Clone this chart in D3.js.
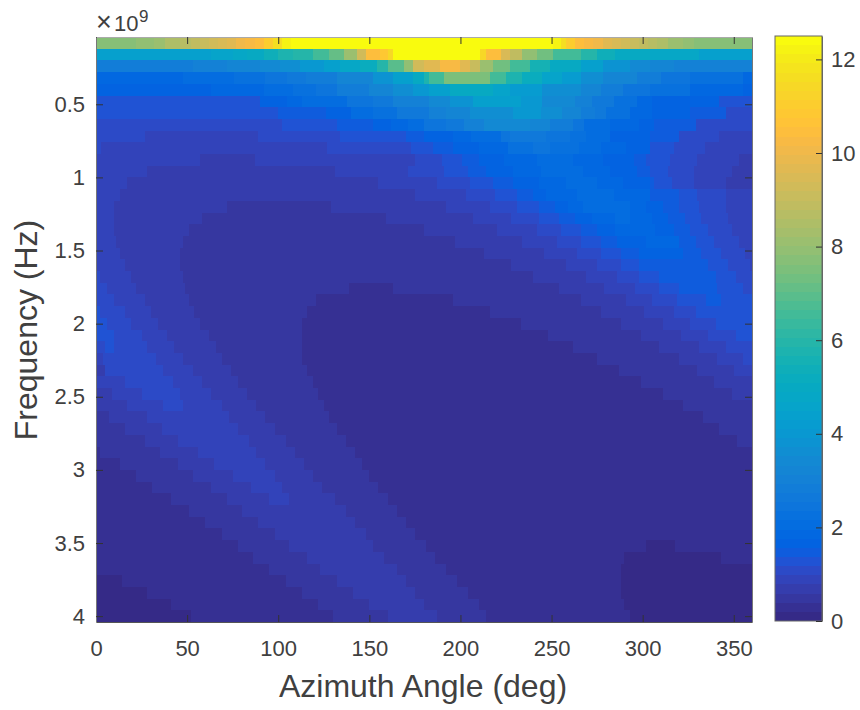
<!DOCTYPE html>
<html>
<head>
<meta charset="utf-8">
<style>
    html, body { margin: 0; padding: 0; background: #fff; }
    text { font-family: "Liberation Sans", Arial, sans-serif; fill: #404040; }
</style>
<script src="https://cdn.jsdelivr.net/npm/d3@7"></script>
</head>
<body>
<svg id="grafico" width="860" height="710"></svg>
<script>
// tick labels
const azimuthTicks = [0, 50, 100, 150, 200, 250, 300, 350];
const frequencyTicks = [0.5, 1, 1.5, 2, 2.5, 3, 3.5, 4];
const colorbarTicks = [0, 2, 4, 6, 8, 10, 12];

// frequency of each row, GHz
const frequencies = [
    0.08, 0.16, 0.24, 0.32, 0.40, 0.48, 0.56, 0.64, 0.72, 0.80,
    0.88, 0.96, 1.04, 1.12, 1.20, 1.28, 1.36, 1.44, 1.52, 1.60,
    1.68, 1.76, 1.84, 1.92, 2.00, 2.08, 2.16, 2.24, 2.32, 2.40,
    2.48, 2.56, 2.64, 2.72, 2.80, 2.88, 2.96, 3.04, 3.12, 3.20,
    3.28, 3.36, 3.44, 3.52, 3.60, 3.68, 3.76, 3.84, 3.92, 4.00
];

// one list per row: value, azimuth where it stops, value, azimuth...
const rowValues = [
    [7.8,22, 8,32, 8.2,38, 8.4,46, 8.6,52, 8.8,57, 9,62, 9.2,67, 9.5,72, 9.7,77, 10,82, 10.3,87, 10.5,92, 11,97, 11.6,102, 12.2,107, 12.5,251, 12.2,255, 11.6,258, 11,263, 10.5,268, 10.3,273, 10,278, 9.7,283, 9.5,288, 9.2,293, 9,298, 8.8,303, 8.6,308, 8.4,314, 8.2,322, 8,328, 7.8,360],
    [4.4,63, 4.5,75, 4.7,83, 5,92, 5.3,100, 5.7,108, 6,119, 6.5,128, 7.2,136, 8.2,143, 9.2,148, 10.4,156, 10.8,160, 11.5,163, 12.5,211, 11.5,214, 10.5,222, 9.5,227, 8.8,234, 8,242, 7.3,251, 6.6,266, 5.9,275, 5.4,285, 5,304, 4.7,331, 4.4,360],
    [2.9,53, 3,72, 3.2,90, 3.4,101, 3.7,112, 4,125, 4.3,134, 4.7,145, 5.2,154, 6,160, 7,169, 8,174, 9.2,180, 9.6,189, 10.3,200, 9.6,205, 9,211, 8.2,218, 7.4,227, 6.5,238, 5.6,249, 4.9,266, 4.4,278, 3.8,293, 3.4,304, 3.2,317, 3,360],
    [1.85,48, 2.05,76, 2.25,93, 2.45,105, 2.65,115, 2.9,132, 3.3,152, 3.8,163, 4.4,174, 5,180, 5.8,183, 6.5,191, 7.6,216, 6.6,225, 5.8,234, 5.1,245, 4.6,256, 4.2,266, 3.7,278, 3.2,297, 2.8,310, 2.5,326, 2.2,355, 1.85,360],
    [1.65,63, 1.85,92, 2.05,108, 2.25,121, 2.5,132, 2.8,150, 3.2,163, 3.6,174, 4,183, 4.3,194, 5,218, 4.6,227, 4.2,245, 3.7,266, 3.3,277, 2.9,289, 2.5,304, 2.2,326, 1.85,355, 1.65,360],
    [1.3,90, 1.65,105, 1.85,113, 2.05,138, 2.4,152, 2.7,163, 3.1,183, 3.4,194, 3.8,207, 4.4,233, 4,245, 3.5,263, 3,272, 2.6,284, 2.2,297, 1.9,305, 1.65,342, 1.3,360],
    [1.3,100, 1.45,126, 1.7,140, 2,152, 2.3,165, 2.7,183, 3,192, 3.3,205, 3.7,229, 4,244, 3.7,256, 3.3,266, 2.9,274, 2.6,280, 2.2,293, 1.85,305, 1.65,326, 1.45,346, 1.15,360],
    [1.1,102, 1.3,132, 1.45,152, 1.65,162, 1.9,171, 2.1,180, 2.4,192, 2.7,202, 3,213, 3.4,238, 3.2,249, 2.9,262, 2.5,268, 2.1,282, 1.85,298, 1.65,306, 1.45,329, 1.1,360],
    [1.1,27, 0.9,89, 1.1,134, 1.3,170, 1.45,180, 1.65,196, 1.85,206, 2.1,222, 2.4,227, 2.7,247, 2.5,260, 2.3,269, 2,282, 1.65,304, 1.45,320, 1.1,342, 0.9,360],
    [1.1,3, 0.9,127, 1.1,173, 1.3,185, 1.45,196, 1.65,210, 1.85,226, 2.2,240, 2.4,249, 2.2,265, 2,277, 1.85,291, 1.65,304, 1.3,317, 1.1,334, 0.9,360],
    [0.9,57, 0.7,87, 0.9,175, 1.1,190, 1.3,201, 1.45,210, 1.65,224, 1.85,242, 2.05,262, 1.9,278, 1.7,295, 1.45,302, 1.3,315, 1.1,330, 0.9,353, 0.7,360],
    [0.9,28, 0.7,131, 0.9,171, 1.1,191, 1.3,204, 1.45,214, 1.65,229, 1.85,244, 2.05,267, 1.85,282, 1.65,297, 1.45,304, 1.3,314, 1.1,328, 0.9,349, 0.7,360],
    [0.9,17, 0.7,155, 0.9,187, 1.1,205, 1.3,218, 1.45,229, 1.65,243, 1.85,258, 2.05,275, 1.85,289, 1.65,304, 1.45,306, 1.3,316, 1.1,328, 0.9,346, 0.7,360],
    [0.9,13, 0.7,175, 0.9,203, 1.1,219, 1.3,231, 1.45,240, 1.65,247, 1.85,264, 2.05,284, 1.85,304, 1.45,320, 1.3,330, 1.1,346, 0.9,360],
    [0.9,10, 0.7,72, 0.5,129, 0.7,192, 0.9,216, 1.1,231, 1.3,243, 1.45,252, 1.65,259, 1.85,267, 2.05,293, 1.85,302, 1.65,311, 1.45,320, 1.3,331, 1.1,346, 0.9,360],
    [0.9,10, 0.7,58, 0.5,159, 0.7,207, 0.9,228, 1.1,243, 1.3,254, 1.45,263, 1.65,272, 1.85,285, 2.05,293, 1.85,305, 1.65,314, 1.45,323, 1.3,332, 1.1,347, 0.9,360],
    [0.9,10, 0.7,51, 0.5,180, 0.7,220, 0.9,242, 1.1,255, 1.3,266, 1.45,275, 1.65,285, 1.85,307, 1.65,317, 1.45,326, 1.3,336, 1.1,349, 0.9,360],
    [0.9,11, 0.7,48, 0.5,197, 0.7,234, 0.9,253, 1.1,266, 1.3,277, 1.45,286, 1.65,302, 1.85,320, 1.45,329, 1.3,339, 1.1,353, 0.9,360],
    [0.9,13, 0.7,46, 0.5,213, 0.7,246, 0.9,264, 1.1,277, 1.3,288, 1.45,298, 1.65,322, 1.45,332, 1.3,343, 1.1,356, 0.9,360],
    [0.9,16, 0.7,46, 0.5,228, 0.7,258, 0.9,275, 1.1,288, 1.3,298, 1.45,336, 1.3,347, 1.1,359, 0.9,360],
    [1.1,2, 0.9,19, 0.7,48, 0.5,240, 0.7,269, 0.9,286, 1.1,298, 1.3,309, 1.45,340, 1.3,351, 1.1,360],
    [1.1,6, 0.9,22, 0.7,49, 0.5,139, 0.3,163, 0.5,254, 0.7,279, 0.9,296, 1.1,309, 1.3,320, 1.45,341, 1.3,355, 1.1,360],
    [1.1,10, 0.9,27, 0.7,51, 0.5,121, 0.3,196, 0.5,266, 0.7,291, 0.9,305, 1.1,319, 1.3,335, 1.45,343, 1.3,360],
    [1.3,2, 1.1,16, 0.9,30, 0.7,54, 0.5,116, 0.3,216, 0.5,277, 0.7,301, 0.9,317, 1.1,329, 1.3,360],
    [1.3,6, 1.1,19, 0.9,34, 0.7,57, 0.5,113, 0.3,233, 0.5,288, 0.7,311, 0.9,326, 1.1,340, 1.3,360],
    [1.3,10, 1.1,25, 0.9,39, 0.7,62, 0.5,113, 0.3,248, 0.5,299, 0.7,321, 0.9,336, 1.1,351, 1.3,360],
    [1.1,5, 1.3,10, 1.1,28, 0.9,43, 0.7,66, 0.5,113, 0.3,262, 0.5,309, 0.7,331, 0.9,346, 1.1,360],
    [0.9,4, 1.1,33, 0.9,48, 0.7,69, 0.5,113, 0.3,275, 0.5,320, 0.7,341, 0.9,355, 1.1,360],
    [0.7,5, 1.1,37, 0.9,53, 0.7,74, 0.5,116, 0.3,287, 0.5,330, 0.7,350, 0.9,360],
    [0.9,16, 1.1,42, 0.9,58, 0.7,78, 0.5,119, 0.3,299, 0.5,339, 0.7,360],
    [0.7,9, 0.9,25, 1.1,46, 0.9,63, 0.7,83, 0.5,122, 0.3,311, 0.5,349, 0.7,360],
    [0.7,17, 0.9,37, 1.1,48, 0.9,69, 0.7,88, 0.5,125, 0.3,322, 0.5,360],
    [0.5,7, 0.7,28, 0.9,73, 0.7,93, 0.5,128, 0.3,333, 0.5,360],
    [0.5,16, 0.7,36, 0.9,78, 0.7,98, 0.5,132, 0.3,342, 0.5,360],
    [0.5,27, 0.7,45, 0.9,84, 0.7,104, 0.5,137, 0.3,352, 0.5,360],
    [0.3,2, 0.5,35, 0.7,56, 0.9,88, 0.7,109, 0.5,142, 0.3,360],
    [0.3,13, 0.5,45, 0.7,65, 0.9,93, 0.7,114, 0.5,146, 0.3,360],
    [0.3,22, 0.5,53, 0.7,75, 0.9,98, 0.7,119, 0.5,150, 0.3,360],
    [0.3,31, 0.5,63, 0.7,85, 0.9,102, 0.7,124, 0.5,155, 0.3,360],
    [0.3,41, 0.5,72, 0.7,95, 0.9,106, 0.7,131, 0.5,160, 0.3,360],
    [0.3,51, 0.5,80, 0.7,137, 0.5,165, 0.3,360],
    [0.3,60, 0.5,89, 0.7,142, 0.5,170, 0.3,360],
    [0.3,69, 0.5,98, 0.7,148, 0.5,175, 0.3,360],
    [0.3,78, 0.5,106, 0.7,152, 0.5,181, 0.3,302, 0.1,318, 0.3,360],
    [0.3,86, 0.5,116, 0.7,158, 0.5,186, 0.3,290, 0.1,343, 0.3,360],
    [0.3,95, 0.5,123, 0.7,165, 0.5,192, 0.3,288, 0.1,360],
    [0.1,14, 0.3,104, 0.5,132, 0.7,170, 0.5,198, 0.3,288, 0.1,360],
    [0.1,28, 0.3,113, 0.5,141, 0.7,175, 0.5,204, 0.3,288, 0.1,360],
    [0.1,41, 0.3,122, 0.5,150, 0.7,180, 0.5,210, 0.3,290, 0.1,360],
    [0.1,52, 0.3,130, 0.5,160, 0.7,187, 0.5,214, 0.3,293, 0.1,360]
];

const parula = [
    "#352a87", "#363093", "#3637a0", "#353dad", "#3243ba", "#2c4ac7", "#2053d4", "#0f5cdd",
    "#0363e1", "#0268e1", "#046de0", "#0871de", "#0d75dc", "#1079da", "#127dd8", "#1481d6",
    "#1485d4", "#1389d3", "#108ed2", "#0c93d2", "#0998d1", "#079cd0", "#06a0cd", "#06a4ca",
    "#06a7c6", "#07a9c2", "#0aacbe", "#0faeb9", "#15b1b4", "#1db3af", "#25b5a9", "#2eb7a4",
    "#38b99e", "#42bb98", "#4dbc92", "#59bd8c", "#65be86", "#71bf80", "#7cbf7b", "#87bf77",
    "#92bf73", "#9bbf6f", "#a5be6b", "#aebe67", "#b7bd64", "#c0bc60", "#c8bc5d", "#d1bb59",
    "#d9ba56", "#e1b952", "#e9b94e", "#f1b94a", "#f8ba44", "#fdbe3d", "#ffc337", "#fec832",
    "#fccd2e", "#f9d32a", "#f7d826", "#f5de21", "#f5e41d", "#f5eb18", "#f6f313", "#f9fb0e"
];

let left = 96, right = 752, top_ = 37, bottom = 622;
let barLeft = 775, barRight = 822, barTop = 36, barBottom = 621;

let x = d3.scaleLinear().domain([0, 360]).range([left, right]);
let y = d3.scaleLinear().domain([0.04, 4.04]).range([top_, bottom]);
let color = d3.scaleQuantize().domain([0, 12.5]).range(parula);
let barY = d3.scaleLinear().domain([0, 12.5]).range([barBottom, barTop]);

let svg = d3.select("#grafico");

// unpack the rows into cells
let cells = [];
rowValues.forEach((row, i) => {
    let start = 0;
    for (let k = 0; k < row.length; k += 2) {
        cells.push({ freq: frequencies[i], value: row[k], start: start, end: row[k + 1] });
        start = row[k + 1];
    }
});

svg.append("g").selectAll("rect")
    .data(cells)
    .enter()
    .append("rect")
    .attr("x", d => x(d.start))
    .attr("width", d => x(d.end) - x(d.start))
    .attr("y", d => y(d.freq - 0.04))
    .attr("height", d => y(d.freq + 0.04) - y(d.freq - 0.04))
    .attr("fill", d => color(d.value))
    .attr("shape-rendering", "crispEdges");

function styleAxis(g, lineColor) {
    g.select(".domain").attr("stroke", lineColor);
    g.selectAll(".tick line").attr("stroke", "#333");
    g.selectAll(".tick text")
        .style("font-family", '"Liberation Sans", Arial, sans-serif')
        .style("font-size", "22px")
        .attr("fill", "#404040");
}

svg.append("g")
    .attr("transform", `translate(0, ${bottom})`)
    .call(d3.axisBottom(x).tickValues(azimuthTicks).tickSizeInner(-7).tickSizeOuter(0).tickPadding(18).tickFormat(d => d))
    .call(g => styleAxis(g, "#555"));

svg.append("g")
    .attr("transform", `translate(0, ${top_})`)
    .call(d3.axisTop(x).tickValues(azimuthTicks).tickSizeInner(-7).tickSizeOuter(0).tickFormat(""))
    .call(g => styleAxis(g, "#aaa"));

svg.append("g")
    .attr("transform", `translate(${left}, 0)`)
    .call(d3.axisLeft(y).tickValues(frequencyTicks).tickSizeInner(-7).tickSizeOuter(0).tickPadding(11).tickFormat(d => d))
    .call(g => styleAxis(g, "#777"));

svg.append("g")
    .attr("transform", `translate(${right}, 0)`)
    .call(d3.axisRight(y).tickValues(frequencyTicks).tickSizeInner(-7).tickSizeOuter(0).tickFormat(""))
    .call(g => styleAxis(g, "#777"));

// colorbar
svg.append("g").selectAll("rect")
    .data(parula)
    .enter()
    .append("rect")
    .attr("x", barLeft)
    .attr("width", barRight - barLeft)
    .attr("y", d => barY(color.invertExtent(d)[1]))
    .attr("height", d => barY(color.invertExtent(d)[0]) - barY(color.invertExtent(d)[1]))
    .attr("fill", d => d)
    .attr("shape-rendering", "crispEdges");

svg.append("rect")
    .attr("x", barLeft)
    .attr("y", barTop)
    .attr("width", barRight - barLeft)
    .attr("height", barBottom - barTop)
    .attr("fill", "none")
    .attr("stroke", "#666");

svg.append("g")
    .attr("transform", `translate(${barRight}, 0)`)
    .call(d3.axisRight(barY).tickValues(colorbarTicks).tickSizeInner(-6).tickSizeOuter(0).tickPadding(9).tickFormat(d => d))
    .call(g => styleAxis(g, "#666"));

// labels
svg.append("text")
    .attr("x", (left + right) / 2 - 1)
    .attr("y", 697)
    .attr("text-anchor", "middle")
    .style("font-size", "32px")
    .text("Azimuth Angle (deg)");

svg.append("text")
    .attr("transform", "translate(37, 330) rotate(-90)")
    .attr("text-anchor", "middle")
    .style("font-size", "32px")
    .text("Frequency (Hz)");

let exponent = svg.append("text").attr("y", 31).style("font-size", "22px");
exponent.append("tspan").attr("x", 96).style("font-size", "27px").text("×");
exponent.append("tspan").attr("x", 114).text("10");
exponent.append("tspan").attr("x", 139).attr("dy", -9).style("font-size", "17px").text("9");
</script>
</body>
</html>
